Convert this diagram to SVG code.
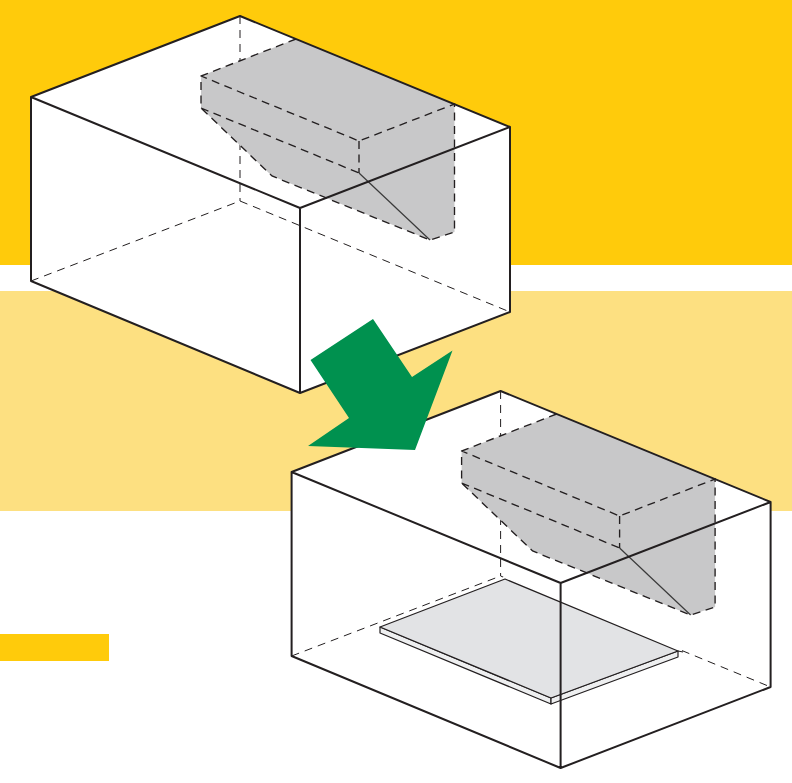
<svg xmlns="http://www.w3.org/2000/svg" width="792" height="783" viewBox="0 0 792 783">
<style>
.edge{fill:none;stroke:#231f20;stroke-width:2;stroke-linejoin:round}
.hid{fill:none;stroke:#231f20;stroke-width:1;stroke-dasharray:8 6}
.gd{fill:none;stroke:#231f20;stroke-width:1.35;stroke-dasharray:8 5.5}
.thin{fill:none;stroke:#3a3a3a;stroke-width:1.2}
.plate{stroke:#231f20;stroke-width:1.2;stroke-linejoin:round}
</style>
<defs>
<g id="boxBack">
<path d="M31 97L240 16L510 127V312L300 393L31 281Z" fill="#fff"/>
<path class="hid" d="M240 16V201M31 281L240 201M240 201L510 312"/>
<path d="M201 76L296 39L454.5 104V232L430 240L272 176L201 108Z" fill="#c8c8c9"/>
<path class="gd" d="M296 39L201 76V108L272 176L430 240L454.5 232V104L359 141L201 76M201 108L359 173M359 141V173"/>
<path class="thin" d="M359 173L430 240"/>
</g>
<g id="boxFront">
<path class="edge" d="M31 97L240 16L510 127V312L300 393L31 281ZM31 97L300 208L510 127M300 208V393"/>
</g>
</defs>
<g id="bands">
<rect x="0" y="0" width="792" height="265" fill="#ffcb0b"/>
<rect x="0" y="291" width="792" height="220" fill="#fde081"/>
<rect x="0" y="634" width="109" height="27" fill="#ffcb0b"/>
</g>
<g id="box-top">
<use href="#boxBack"/>
<use href="#boxFront"/>
</g>
<g id="box-bottom" transform="translate(260.6 375)">
<use href="#boxBack"/>
</g>
<g id="plate">
<path d="M503 577.5L682 650.5" fill="none" stroke="#fff" stroke-width="3"/>
<path class="plate" d="M380 627V633L551 704V698Z" fill="#eeeff0"/>
<path class="plate" d="M551 698V704L678 657V651Z" fill="#eeeff0"/>
<path class="plate" d="M380 627L505 579L678 651L551 698Z" fill="#e2e3e5"/>
<path class="plate" d="M678 651L683 652" fill="none"/>
</g>
<g id="box-bottom-front" transform="translate(260.6 375)">
<use href="#boxFront"/>
</g>
<g id="connectors">
<path id="arrow" d="M373 319L310.500 360L349 418L308 446L415 450L452.500 350.500L412 377Z" fill="#00914f"/>
</g>
</svg>
